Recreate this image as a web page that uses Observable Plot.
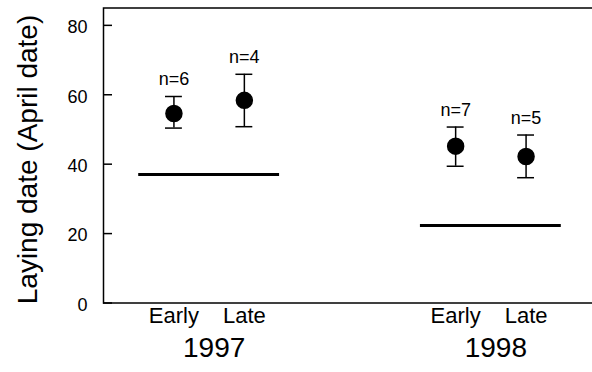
<!DOCTYPE html>
<html><head><meta charset="utf-8">
<script src="https://cdn.jsdelivr.net/npm/d3@7"></script>
<script src="https://cdn.jsdelivr.net/npm/@observablehq/plot@0.6"></script>
<style>
html,body{margin:0;padding:0;overflow:hidden;background:#fff;}
#chart{width:592px;height:372px;overflow:hidden;}
</style></head><body><div id="chart"></div>
<script>
const years = [1997, 1998];
const groups = ["Early", "Late"];
const means = [54.6, 58.4, 45.2, 42.2];
const lows = [50.4, 50.8, 39.4, 36.1];
const highs = [59.5, 65.9, 50.7, 48.4];
const counts = [6, 4, 7, 5];
const baselines = [37.0, 22.3];
const yTicks = [0, 20, 40, 60, 80];
const yTitle = "Laying date (April date)";

// layout: each year occupies a block of 4 slots, groups side by side
const slot = (yi, gi) => 1 + 4 * yi + gi;
const cap = 0.12;

const rows = means.map((m, i) => {
  const yi = Math.floor(i / 2), gi = i % 2;
  return {year: years[yi], group: groups[gi], pos: slot(yi, gi), mean: m, lo: lows[i], hi: highs[i], n: counts[i]};
});
const base = years.map((y, yi) => ({
  year: y, value: baselines[yi],
  x1: slot(yi, 0) - 0.5, x2: slot(yi, 1) + 0.5, mid: (slot(yi, 0) + slot(yi, 1)) / 2
}));

const chart = Plot.plot({
  width: 592,
  height: 372,
  marginLeft: 103,
  marginRight: -4,
  marginTop: 7.5,
  marginBottom: 69.5,
  style: {fontFamily: "'Liberation Sans', Arial, sans-serif", background: "white", color: "black"},
  x: {domain: [0, 7], axis: null},
  y: {domain: [0, 85]},
  marks: [
    Plot.frame({stroke: "black", strokeWidth: 1.5}),
    Plot.axisY(yTicks, {anchor: "left", tickSize: -9, tickFormat: () => "", label: null, strokeWidth: 1.5}),
    Plot.axisY(yTicks, {anchor: "left", tickSize: 0, tickPadding: 16, fontSize: 18, label: null, dy: 2}),
    Plot.ruleY(base, {y: "value", x1: "x1", x2: "x2", strokeWidth: 3, stroke: "black"}),
    Plot.ruleX(rows, {x: "pos", y1: "lo", y2: "hi", strokeWidth: 1.5, stroke: "black"}),
    Plot.ruleY(rows, {y: "hi", x1: d => d.pos - cap, x2: d => d.pos + cap, strokeWidth: 1.5, stroke: "black"}),
    Plot.ruleY(rows, {y: "lo", x1: d => d.pos - cap, x2: d => d.pos + cap, strokeWidth: 1.5, stroke: "black"}),
    Plot.dot(rows, {x: "pos", y: "mean", r: 8, fill: "black", stroke: "black"}),
    Plot.text(rows, {x: "pos", y: "hi", text: d => `n=${d.n}`, dy: -17, fontSize: 18}),
    Plot.text(rows, {x: "pos", text: "group", frameAnchor: "bottom", dy: 20, fontSize: 22}),
    Plot.text(base, {x: "mid", text: d => String(d.year), frameAnchor: "bottom", dy: 54, dx: 5, fontSize: 28}),
    Plot.text([yTitle], {text: d => d, frameAnchor: "left", textAnchor: "middle", rotate: -90, dx: -75, dy: 4, fontSize: 28})
  ]
});
document.getElementById("chart").appendChild(chart);
</script>
</body></html>
